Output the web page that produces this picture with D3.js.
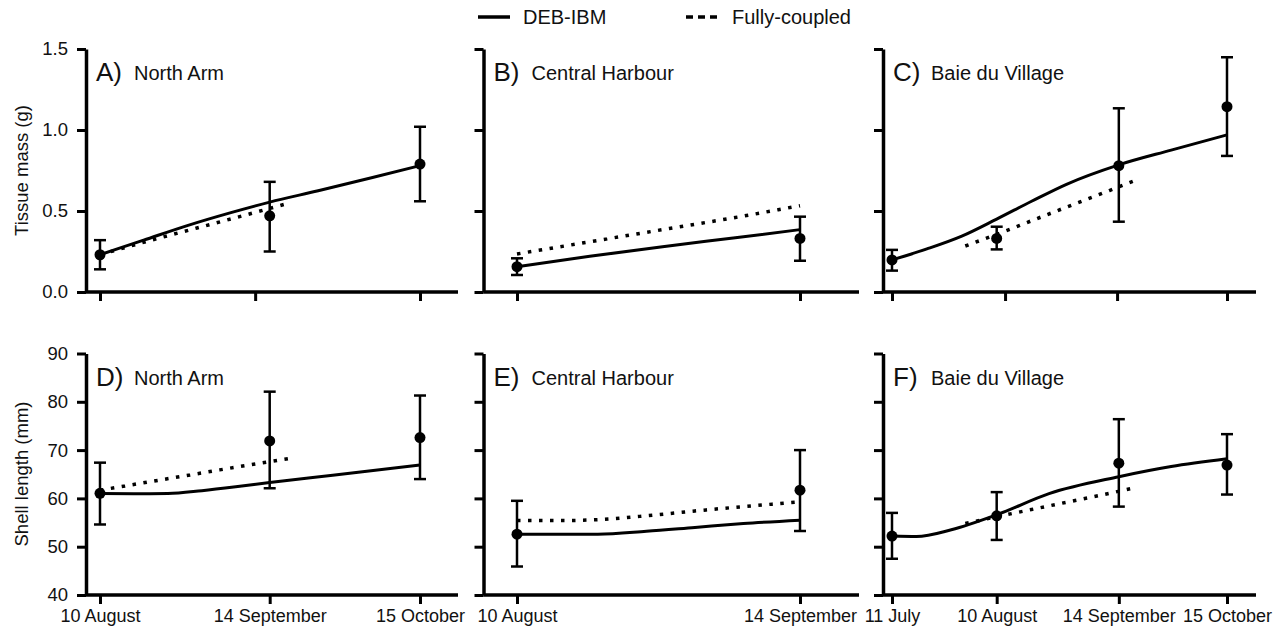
<!DOCTYPE html>
<html>
<head>
<meta charset="utf-8">
<script src="https://cdn.jsdelivr.net/npm/d3@7"></script>
<style>
  html, body { margin: 0; padding: 0; background: #fff; }
  svg { display: block; font-family: "Liberation Sans", Arial, Helvetica, sans-serif; }
  text { fill: #111; }
</style>
</head>
<body>
<svg id="chart" width="1282" height="630"></svg>
<script>
// ---------- DATA (days counted from 10 August) ----------
const dateLabels = { "-30": "11 July", "0": "10 August", "35": "14 September", "66": "15 October" };

const panelLetters = ["A)", "B)", "C)", "D)", "E)", "F)"];
const siteNames = ["North Arm", "Central Harbour", "Baie du Village"];

// sampling days per site (observations)
const obsDaysA = [0, 35, 66];
const obsDaysB = [0, 35];
const obsDaysC = [-30, 0, 35, 66];

// x tick days per column (bottom row = sampling dates; top row as printed)
const bottomTickDays = [[0, 35, 66], [0, 35], [-30, 0, 35, 66]];
const topTickDays = [[0, 32, 66], [0, 35], [-30, 2.4, 34.5, 66]];

// Tissue mass (g) observations: mean, low, high
const massMeanA = [0.23, 0.47, 0.79];
const massLowA  = [0.14, 0.25, 0.56];
const massHighA = [0.32, 0.68, 1.02];
const massMeanB = [0.156, 0.331];
const massLowB  = [0.105, 0.193];
const massHighB = [0.208, 0.465];
const massMeanC = [0.198, 0.331, 0.78, 1.144];
const massLowC  = [0.132, 0.263, 0.434, 0.84];
const massHighC = [0.26, 0.403, 1.134, 1.449];

// Shell length (mm) observations
const lenMeanD = [61.05, 71.9, 72.6];
const lenLowD  = [54.6, 62.1, 64.0];
const lenHighD = [67.4, 82.1, 81.3];
const lenMeanE = [52.6, 61.7];
const lenLowE  = [45.9, 53.25];
const lenHighE = [59.5, 70.0];
const lenMeanF = [52.2, 56.4, 67.3, 66.9];
const lenLowF  = [47.5, 51.4, 58.3, 60.8];
const lenHighF = [57.0, 61.3, 76.4, 73.3];

// DEB-IBM model curves
const debDaysA = [0, 9, 18, 27, 35, 45, 56, 66];
const debMassA = [0.23, 0.32, 0.41, 0.49, 0.555, 0.625, 0.705, 0.78];
const debDaysB = [0, 9, 18, 27, 35];
const debMassB = [0.156, 0.22, 0.28, 0.335, 0.385];
const debDaysC = [-30, -20, -10, 0, 10, 20, 35, 50, 66];
const debMassC = [0.198, 0.266, 0.345, 0.45, 0.56, 0.665, 0.785, 0.876, 0.97];
const debDaysD = [0, 7, 14, 21, 28, 35, 48, 66];
const debLenD  = [61.0, 60.95, 61.0, 61.6, 62.4, 63.3, 64.8, 66.9];
const debDaysE = [0, 5, 10, 16, 22, 28, 35];
const debLenE  = [52.6, 52.6, 52.6, 53.2, 54.0, 54.8, 55.5];
const debDaysF = [-30, -23, -13, 0, 15, 35, 50, 66];
const debLenF  = [52.2, 52.1, 53.5, 56.6, 61.0, 64.5, 66.6, 68.2];

// Fully-coupled model curves
const fcDaysA = [0, 10, 20, 30, 38.5];
const fcMassA = [0.23, 0.315, 0.395, 0.475, 0.545];
const fcDaysB = [0, 9, 18, 27, 35];
const fcMassB = [0.235, 0.31, 0.385, 0.46, 0.533];
const fcDaysC = [-9, 0, 10, 20, 30, 40];
const fcMassC = [0.284, 0.356, 0.44, 0.524, 0.607, 0.691];
const fcDaysD = [0, 10, 20, 30, 40];
const fcLenD  = [61.7, 63.4, 65.1, 66.8, 68.4];
const fcDaysE = [0, 5, 10, 16, 22, 28, 35];
const fcLenE  = [55.4, 55.4, 55.6, 56.4, 57.4, 58.3, 59.3];
const fcDaysF = [-9, 0, 10, 20, 30, 39];
const fcLenF  = [54.8, 56.2, 57.7, 59.2, 60.7, 62.1];

const massTicks = [0, 0.5, 1.0, 1.5];
const lenTicks = [40, 50, 60, 70, 80, 90];

// ---------- LAYOUT ----------
const svg = d3.select("#chart");
const colAxisX = [86, 483.5, 883];
const colRightEnd = [458, 859, 1256];
const colXDomain = [[0, 66], [0, 35], [-30, 66]];
const colXRange = [[100, 420], [517, 800], [892, 1227]];
const rowY = [[292, 49], [595, 353.5]];

const zip = (a, b) => a.map((d, i) => [d, b[i]]);
const panels = [
  { row: 0, col: 0, obs: obsDaysA, mean: massMeanA, lo: massLowA, hi: massHighA, deb: zip(debDaysA, debMassA), fc: zip(fcDaysA, fcMassA) },
  { row: 0, col: 1, obs: obsDaysB, mean: massMeanB, lo: massLowB, hi: massHighB, deb: zip(debDaysB, debMassB), fc: zip(fcDaysB, fcMassB) },
  { row: 0, col: 2, obs: obsDaysC, mean: massMeanC, lo: massLowC, hi: massHighC, deb: zip(debDaysC, debMassC), fc: zip(fcDaysC, fcMassC) },
  { row: 1, col: 0, obs: obsDaysA, mean: lenMeanD, lo: lenLowD, hi: lenHighD, deb: zip(debDaysD, debLenD), fc: zip(fcDaysD, fcLenD) },
  { row: 1, col: 1, obs: obsDaysB, mean: lenMeanE, lo: lenLowE, hi: lenHighE, deb: zip(debDaysE, debLenE), fc: zip(fcDaysE, fcLenE) },
  { row: 1, col: 2, obs: obsDaysC, mean: lenMeanF, lo: lenLowF, hi: lenHighF, deb: zip(debDaysF, debLenF), fc: zip(fcDaysF, fcLenF) }
];

panels.forEach((p, idx) => {
  const x = d3.scaleLinear().domain(colXDomain[p.col]).range(colXRange[p.col]);
  const y = p.row === 0
    ? d3.scaleLinear().domain([0, 1.5]).range(rowY[0])
    : d3.scaleLinear().domain([40, 90]).range(rowY[1]);
  const g = svg.append("g");
  const ax = colAxisX[p.col];
  const baseY = y.range()[0];

  // x axis baseline
  g.append("line").attr("x1", ax).attr("x2", colRightEnd[p.col])
    .attr("y1", baseY).attr("y2", baseY)
    .attr("stroke", "#000").attr("stroke-width", 3.5);

  // x axis ticks
  const tickDays = p.row === 0 ? topTickDays[p.col] : bottomTickDays[p.col];
  const xAxis = d3.axisBottom(x).tickValues(tickDays).tickSize(9).tickSizeOuter(0).tickPadding(4)
    .tickFormat(p.row === 0 ? () => "" : d => dateLabels[String(d)]);
  const gx = g.append("g").attr("transform", `translate(0,${baseY})`).call(xAxis);
  gx.select(".domain").remove();
  gx.selectAll(".tick line").attr("stroke", "#000").attr("stroke-width", 3);
  gx.selectAll(".tick text").attr("font-size", 18).attr("fill", "#111")
    .attr("font-family", "Liberation Sans, Arial, sans-serif").attr("dy", "0.8em");

  // y axis
  const yAxis = d3.axisLeft(y).tickValues(p.row === 0 ? massTicks : lenTicks)
    .tickSize(9).tickSizeOuter(0).tickPadding(9)
    .tickFormat(p.col === 0 ? (p.row === 0 ? d3.format(".1f") : d3.format("d")) : () => "");
  const gy = g.append("g").attr("transform", `translate(${ax},0)`).call(yAxis);
  gy.select(".domain").attr("stroke", "#000").attr("stroke-width", 3.5);
  gy.selectAll(".tick line").attr("stroke", "#000").attr("stroke-width", 3);
  gy.selectAll(".tick text").attr("font-size", 18.5).attr("fill", "#111")
    .attr("font-family", "Liberation Sans, Arial, sans-serif");

  // panel title
  const topY = y.range()[1];
  g.append("text").attr("x", ax + 10).attr("y", topY + 32)
    .attr("font-size", 26).text(panelLetters[idx]);
  g.append("text").attr("x", ax + 48).attr("y", topY + 31)
    .attr("font-size", 20).text(siteNames[p.col]);

  const line = d3.line().x(d => x(d[0])).y(d => y(d[1])).curve(d3.curveMonotoneX);

  // fully-coupled (dotted)
  g.append("path").datum(p.fc).attr("d", line)
    .attr("fill", "none").attr("stroke", "#000").attr("stroke-width", 3.5)
    .attr("stroke-dasharray", "3.5,7.5");

  // DEB-IBM (solid)
  g.append("path").datum(p.deb).attr("d", line)
    .attr("fill", "none").attr("stroke", "#000").attr("stroke-width", 3);

  // error bars
  const obs = p.obs.map((d, i) => ({ day: d, m: p.mean[i], lo: p.lo[i], hi: p.hi[i] }));
  const eb = g.append("g").selectAll("g").data(obs).join("g");
  eb.append("line").attr("x1", d => x(d.day)).attr("x2", d => x(d.day))
    .attr("y1", d => y(d.lo)).attr("y2", d => y(d.hi))
    .attr("stroke", "#000").attr("stroke-width", 2.5);
  eb.append("line").attr("x1", d => x(d.day) - 6).attr("x2", d => x(d.day) + 6)
    .attr("y1", d => y(d.lo)).attr("y2", d => y(d.lo))
    .attr("stroke", "#000").attr("stroke-width", 2.5);
  eb.append("line").attr("x1", d => x(d.day) - 6).attr("x2", d => x(d.day) + 6)
    .attr("y1", d => y(d.hi)).attr("y2", d => y(d.hi))
    .attr("stroke", "#000").attr("stroke-width", 2.5);
  eb.append("circle").attr("cx", d => x(d.day)).attr("cy", d => y(d.m))
    .attr("r", 5.5).attr("fill", "#000");
});

// y labels
svg.append("text").attr("transform", "translate(28,170.5) rotate(-90)")
  .attr("text-anchor", "middle").attr("font-size", 18.5).text("Tissue mass (g)");
svg.append("text").attr("transform", "translate(28,474) rotate(-90)")
  .attr("text-anchor", "middle").attr("font-size", 18.5).text("Shell length (mm)");

// legend
const legend = svg.append("g");
legend.append("line").attr("x1", 478).attr("x2", 510).attr("y1", 17).attr("y2", 17)
  .attr("stroke", "#000").attr("stroke-width", 3.5);
legend.append("text").attr("x", 523).attr("y", 24).attr("font-size", 20).text("DEB-IBM");
legend.append("line").attr("x1", 686).attr("x2", 717).attr("y1", 17).attr("y2", 17)
  .attr("stroke", "#000").attr("stroke-width", 3.5).attr("stroke-dasharray", "7,5");
legend.append("text").attr("x", 732).attr("y", 24).attr("font-size", 20).text("Fully-coupled");
</script>
</body>
</html>
